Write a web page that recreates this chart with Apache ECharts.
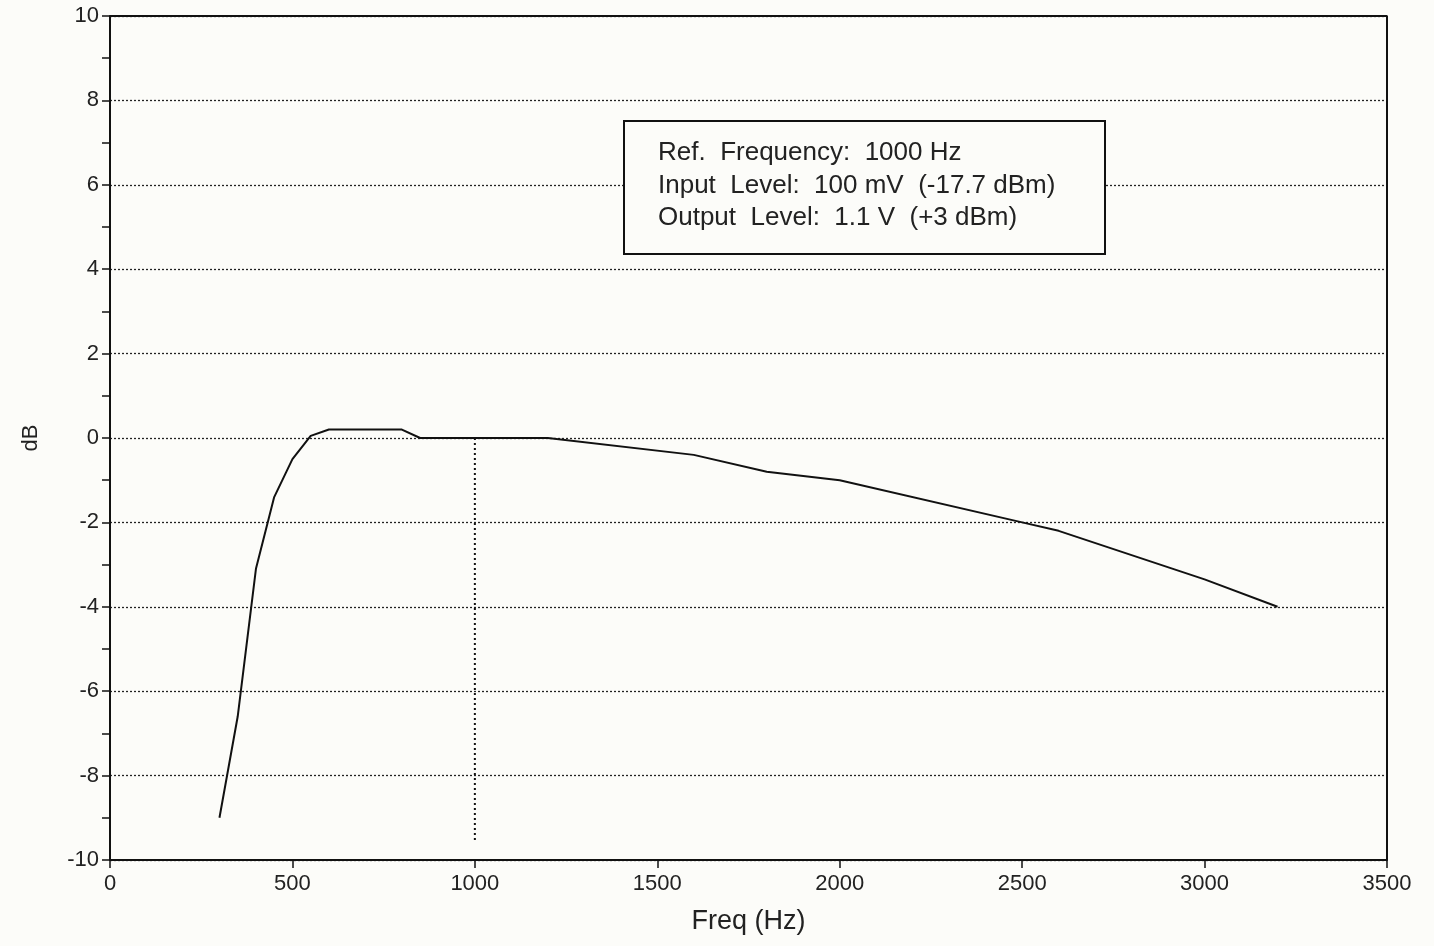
<!DOCTYPE html>
<html>
<head>
<meta charset="utf-8">
<script src="https://cdn.jsdelivr.net/npm/echarts@6/dist/echarts.min.js"></script>
<style>
  html, body { margin: 0; padding: 0; background: #fcfcf9; }
  #chart { width: 1434px; height: 946px; }
</style>
</head>
<body>
<div id="chart"></div>
<script>
// frequency response
var freq = [300, 350, 400, 450, 500, 550, 600, 800, 850, 1000, 1200, 1600, 1800, 2000, 2500, 2600, 3000, 3200];
var level = [-9.0, -6.6, -3.1, -1.4, -0.5, 0.05, 0.2, 0.2, 0, 0, 0, -0.4, -0.8, -1.0, -2.0, -2.2, -3.35, -4.0];
// dotted reference marker at 1000 Hz
var refFreq = [1000, 1000];
var refLevel = [0, -9.6];
var infoLines = [
    'Ref.  Frequency:  1000 Hz',
    'Input  Level:  100 mV  (-17.7 dBm)',
    'Output  Level:  1.1 V  (+3 dBm)'
];

var font = 'Liberation Sans, Arial, sans-serif';
var myChart = echarts.init(document.getElementById('chart'));

var option = {
    backgroundColor: '#fcfcf9',
    animation: false,
    grid: { left: 110, right: 47, top: 16, bottom: 86 },
    xAxis: {
        type: 'value',
        min: 0,
        max: 3500,
        interval: 500,
        name: 'Freq (Hz)',
        nameLocation: 'middle',
        nameGap: 48,
        nameTextStyle: { fontFamily: font, fontSize: 27, color: '#222' },
        axisLine: { onZero: false, lineStyle: { color: '#111', width: 2 } },
        axisTick: { length: 8, lineStyle: { color: '#111', width: 1.5 } },
        axisLabel: {
            fontFamily: font, fontSize: 22, color: '#222', margin: 13,
            formatter: function (v) { return String(v); }
        },
        splitLine: { show: false }
    },
    yAxis: {
        type: 'value',
        min: -10,
        max: 10,
        interval: 2,
        name: 'dB',
        nameLocation: 'middle',
        nameGap: 68,
        nameTextStyle: { fontFamily: font, fontSize: 22, color: '#222' },
        axisLine: { onZero: false, lineStyle: { color: '#111', width: 2 } },
        axisTick: { length: 8, lineStyle: { color: '#111', width: 1.5 } },
        minorTick: { show: true, splitNumber: 2, length: 8, lineStyle: { color: '#111', width: 1.5 } },
        axisLabel: { fontFamily: font, fontSize: 22, color: '#222', margin: 11 },
        splitLine: { show: true, lineStyle: { color: '#222', type: [2, 2], width: 1.3 } }
    },
    series: [
        {
            type: 'line',
            data: freq.map(function (f, i) { return [f, level[i]]; }),
            symbol: 'none',
            lineStyle: { color: '#111', width: 2 },
            z: 3
        },
        {
            type: 'line',
            data: refFreq.map(function (f, i) { return [f, refLevel[i]]; }),
            symbol: 'none',
            lineStyle: { color: '#111', width: 2, type: [2, 3] },
            z: 2
        },
        // frame top and right
        {
            type: 'line',
            data: [[0, 10], [3500, 10], [3500, -10]],
            symbol: 'none',
            silent: true,
            lineStyle: { color: '#111', width: 2 },
            z: 4
        }
    ],
    graphic: [
        {
            type: 'rect',
            left: 623,
            top: 120,
            shape: { width: 481, height: 133 },
            style: { fill: '#fcfcf9', stroke: '#111', lineWidth: 2 },
            z: 10
        },
        {
            type: 'text',
            left: 658,
            top: 137,
            style: {
                text: infoLines.join('\n'),
                font: '26px ' + font,
                lineHeight: 32.5,
                fill: '#222'
            },
            z: 11
        }
    ]
};
myChart.setOption(option);
</script>
</body>
</html>
